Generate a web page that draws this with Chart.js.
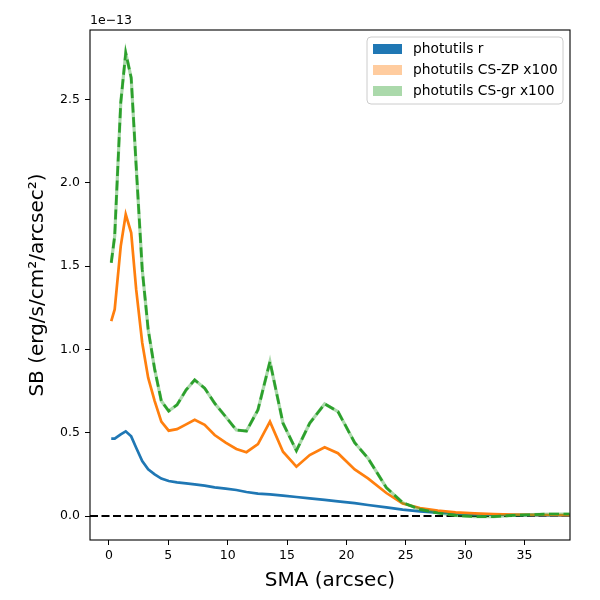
<!DOCTYPE html>
<html>
<head>
<meta charset="utf-8">
<script src="https://cdn.jsdelivr.net/npm/chart.js@4.4.0/dist/chart.umd.min.js"></script>
<style>
    html, body { margin: 0; padding: 0; background: #fff; }
</style>
</head>
<body>
<canvas id="sbChart" width="600" height="600"></canvas>
<script>
// Surface brightness profiles (values in units of 1e-13 erg/s/cm^2/arcsec^2)
var smaArcsec = [0.19, 0.48, 0.99, 1.41, 1.87, 2.29, 2.80, 3.30, 3.85, 4.41,
    5.03, 5.73, 6.50, 7.22, 8.06, 8.90, 9.83, 10.73, 11.58, 12.55,
    13.56, 14.66, 15.79, 16.91, 18.17, 19.29, 20.70, 21.82, 23.37, 24.74,
    26.2, 27.7, 29.2, 30.8, 32.4, 34.0, 35.6, 37.2, 38.8];
var sbR = [0.464, 0.464, 0.49, 0.508, 0.478, 0.41, 0.33, 0.28, 0.25, 0.225,
    0.21, 0.202, 0.196, 0.19, 0.182, 0.172, 0.164, 0.156, 0.144, 0.134,
    0.13, 0.122, 0.114, 0.106, 0.097, 0.088, 0.077, 0.066, 0.052, 0.038,
    0.028, 0.02, 0.014, 0.01, 0.008, 0.006, 0.005, 0.004, 0.004];
var sbCsZp = [1.17, 1.24, 1.62, 1.81, 1.70, 1.36, 1.04, 0.83, 0.69, 0.566,
    0.512, 0.521, 0.55, 0.577, 0.547, 0.486, 0.44, 0.402, 0.383, 0.432,
    0.566, 0.386, 0.296, 0.366, 0.413, 0.377, 0.28, 0.226, 0.138, 0.075,
    0.048, 0.032, 0.022, 0.016, 0.012, 0.009, 0.007, 0.006, 0.005];
var sbCsGr = [1.52, 1.68, 2.48, 2.78, 2.63, 2.10, 1.48, 1.12, 0.88, 0.69,
    0.63, 0.667, 0.757, 0.817, 0.767, 0.677, 0.596, 0.516, 0.51, 0.637,
    0.927, 0.557, 0.392, 0.557, 0.673, 0.627, 0.44, 0.347, 0.17, 0.08,
    0.04, 0.018, 0.004, -0.004, -0.004, 0.004, 0.008, 0.012, 0.012];
var seriesLabels = ["photutils r", "photutils CS-ZP x100", "photutils CS-gr x100"];
var xTickValues = [0, 5, 10, 15, 20, 25, 30, 35];
var yTickValues = [0, 0.5, 1.0, 1.5, 2.0, 2.5];

var xMin = -1.6, xMax = 38.84;
var yMin = -0.144, yMax = 2.917;

Chart.defaults.font.family = "'DejaVu Sans', sans-serif";
Chart.defaults.color = "#000";

function toPoints(values) {
    return smaArcsec.map(function (x, i) { return { x: x, y: values[i] }; });
}

// frame, legend patches and the 1e-13 offset label
var decorations = {
    id: "decorations",
    afterDraw: function (chart) {
        var ctx = chart.ctx;
        var a = chart.chartArea;
        ctx.save();
        ctx.strokeStyle = "#000";
        ctx.lineWidth = 1.1;
        ctx.strokeRect(a.left, a.top, a.right - a.left, a.bottom - a.top);

        // legend box
        var bx = 367, by = 37, bw = 196, bh = 67, r = 4;
        ctx.beginPath();
        ctx.moveTo(bx + r, by);
        ctx.arcTo(bx + bw, by, bx + bw, by + bh, r);
        ctx.arcTo(bx + bw, by + bh, bx, by + bh, r);
        ctx.arcTo(bx, by + bh, bx, by, r);
        ctx.arcTo(bx, by, bx + bw, by, r);
        ctx.closePath();
        ctx.fillStyle = "rgba(255,255,255,0.8)";
        ctx.fill();
        ctx.strokeStyle = "#cccccc";
        ctx.lineWidth = 1;
        ctx.stroke();

        var patchColors = ["#1f77b4", "rgba(255,127,14,0.4)", "rgba(44,160,44,0.4)"];
        ctx.font = "13.8px 'DejaVu Sans', sans-serif";
        ctx.textBaseline = "middle";
        ctx.textAlign = "left";
        for (var i = 0; i < seriesLabels.length; i++) {
            var cy = 49 + i * 21;
            ctx.fillStyle = patchColors[i];
            ctx.fillRect(373, cy - 5, 29, 10);
            ctx.fillStyle = "#000";
            ctx.fillText(seriesLabels[i], 413, cy);
        }

        ctx.font = "12.5px 'DejaVu Sans', sans-serif";
        ctx.fillText("1e\u221213", a.left, 21);
        ctx.restore();
    }
};

var config = {
    type: "line",
    data: {
        datasets: [
            {
                label: seriesLabels[2],
                data: toPoints(sbCsGr),
                borderColor: "#2ca02c",
                borderWidth: 2.7,
                borderDash: [10, 4.5],
                pointRadius: 0,
                tension: 0,
                fill: false
            },
            {
                label: "gr band",
                data: toPoints(sbCsGr),
                borderColor: "rgba(44,160,44,0.4)",
                borderWidth: 3.2,
                pointRadius: 0,
                tension: 0,
                fill: false
            },
            {
                label: seriesLabels[1],
                data: toPoints(sbCsZp),
                borderColor: "#ff7f0e",
                borderWidth: 2.7,
                pointRadius: 0,
                tension: 0,
                fill: false
            },
            {
                label: seriesLabels[0],
                data: toPoints(sbR),
                borderColor: "#1f77b4",
                borderWidth: 2.7,
                pointRadius: 0,
                tension: 0,
                fill: false
            },
            {
                label: "zero",
                data: [{ x: xMin, y: 0 }, { x: xMax, y: 0 }],
                borderColor: "#000",
                borderWidth: 1.9,
                borderDash: [8, 3.5],
                pointRadius: 0,
                fill: false
            }
        ]
    },
    options: {
        responsive: false,
        animation: false,
        devicePixelRatio: 1,
        layout: { padding: { left: 0, right: 30, top: 30, bottom: 0 } },
        plugins: {
            legend: { display: false },
            tooltip: { enabled: false }
        },
        scales: {
            x: {
                type: "linear",
                min: xMin,
                max: xMax,
                afterBuildTicks: function (scale) {
                    scale.ticks = xTickValues.map(function (v) { return { value: v }; });
                },
                afterFit: function (scale) { scale.height = 60; },
                ticks: {
                    font: { size: 12.5 },
                    padding: 3.5,
                    maxRotation: 0,
                    autoSkip: false,
                    callback: function (v) { return String(v); }
                },
                grid: { drawOnChartArea: false, drawTicks: true, tickLength: 5, color: "#000" },
                border: { display: false },
                title: {
                    display: true,
                    text: "SMA (arcsec)",
                    font: { size: 20 },
                    padding: { top: 0, bottom: 7 }
                }
            },
            y: {
                type: "linear",
                min: yMin,
                max: yMax,
                afterBuildTicks: function (scale) {
                    scale.ticks = yTickValues.map(function (v) { return { value: v }; });
                },
                afterFit: function (scale) { scale.width = 90; },
                ticks: {
                    font: { size: 12.5 },
                    padding: 5,
                    autoSkip: false,
                    callback: function (v) { return v.toFixed(1); }
                },
                grid: { drawOnChartArea: false, drawTicks: true, tickLength: 5, color: "#000" },
                border: { display: false },
                title: {
                    display: true,
                    text: "SB (erg/s/cm\u00B2/arcsec\u00B2)",
                    font: { size: 20 },
                    padding: { top: 26, bottom: 0 }
                }
            }
        }
    },
    plugins: [decorations]
};

var chart = new Chart(document.getElementById("sbChart").getContext("2d"), config);
</script>
</body>
</html>
